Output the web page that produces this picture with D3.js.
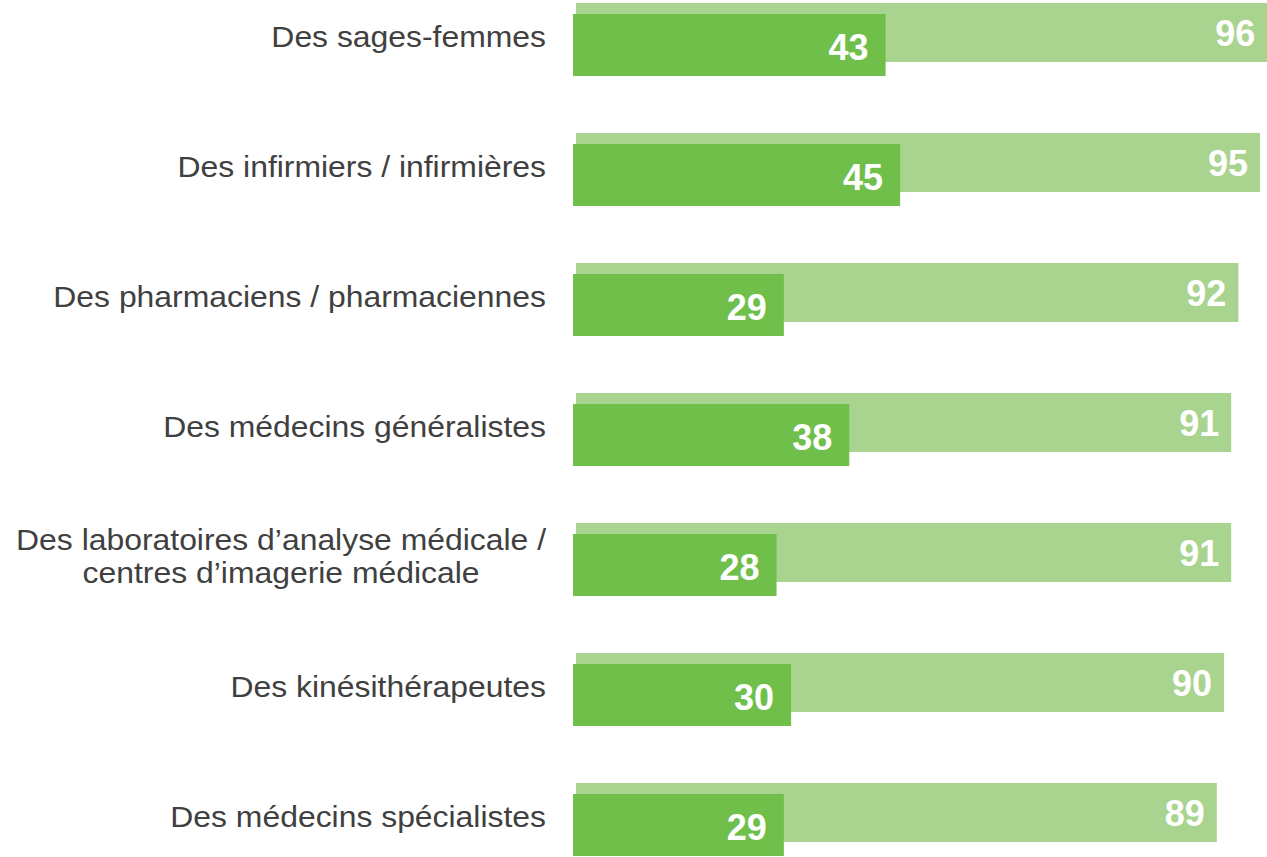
<!DOCTYPE html>
<html>
<head>
<meta charset="utf-8">
<script src="https://cdn.jsdelivr.net/npm/d3@7"></script>
<style>
  body { margin: 0; background: #fff; }
  svg { display: block; font-family: "Liberation Sans", Arial, sans-serif; }
</style>
</head>
<body>
<svg id="chart"></svg>
<script>
const categories = [
    ["Des sages-femmes"],
    ["Des infirmiers / infirmières"],
    ["Des pharmaciens / pharmaciennes"],
    ["Des médecins généralistes"],
    ["Des laboratoires d\u2019analyse médicale /", "centres d\u2019imagerie médicale"],
    ["Des kinésithérapeutes"],
    ["Des médecins spécialistes"]
];
const totalValues = [96, 95, 92, 91, 91, 90, 89];
const strongValues = [43, 45, 29, 38, 28, 30, 29];

const width = 1267, height = 857;
const svg = d3.select('#chart').attr('width', width).attr('height', height);

const keys = categories.map((d, i) => i);

// rows are 130px apart
const yScale = d3.scaleBand().domain(keys).range([3, 3 + 130 * keys.length]).padding(0);

// the two bar series are not drawn on exactly the same scale in the original
const xLight = d3.scaleLinear().domain([0, 100]).range([576, 576 + 720]);
const xDark = d3.scaleLinear().domain([0, 100]).range([573, 573 + 727]);

const rows = svg.selectAll('.row')
    .data(keys)
    .join('g')
    .attr('class', 'row')
    .attr('transform', d => `translate(0,${yScale(d)})`);

rows.append('rect')
    .attr('x', xLight(0))
    .attr('y', 0)
    .attr('width', d => xLight(totalValues[d]) - xLight(0))
    .attr('height', 59)
    .attr('fill', '#a9d48f');

rows.append('rect')
    .attr('x', xDark(0))
    .attr('y', 11)
    .attr('width', d => xDark(strongValues[d]) - xDark(0))
    .attr('height', 62)
    .attr('fill', '#70bf4b');

rows.append('text')
    .attr('x', d => xLight(totalValues[d]) - 12)
    .attr('y', 43)
    .attr('text-anchor', 'end')
    .attr('fill', '#fff')
    .style('font-size', '36px')
    .style('font-weight', 'bold')
    .text(d => totalValues[d]);

rows.append('text')
    .attr('x', d => xDark(strongValues[d]) - 17)
    .attr('y', 57)
    .attr('text-anchor', 'end')
    .attr('fill', '#fff')
    .style('font-size', '36px')
    .style('font-weight', 'bold')
    .text(d => strongValues[d]);

// category labels: slightly stretched text, right aligned;
// multi-line labels are centred on their widest line
rows.each(function(d) {
    const lines = categories[d];
    const label = d3.select(this).append('g')
        .attr('transform', 'translate(546,0) scale(1.1,1)')
        .append('text')
        .attr('fill', '#404040')
        .style('font-size', '29px');
    if (lines.length === 1) {
        label.attr('x', 0).attr('y', 44).attr('text-anchor', 'end').text(lines[0]);
    } else {
        label.attr('text-anchor', 'middle');
        const spans = lines.map((t, i) => label.append('tspan')
            .attr('y', 27 + i * 33)
            .text(t));
        const w = d3.max(spans, s => s.node().getComputedTextLength());
        spans.forEach(s => s.attr('x', -w / 2));
    }
});
</script>
</body>
</html>
